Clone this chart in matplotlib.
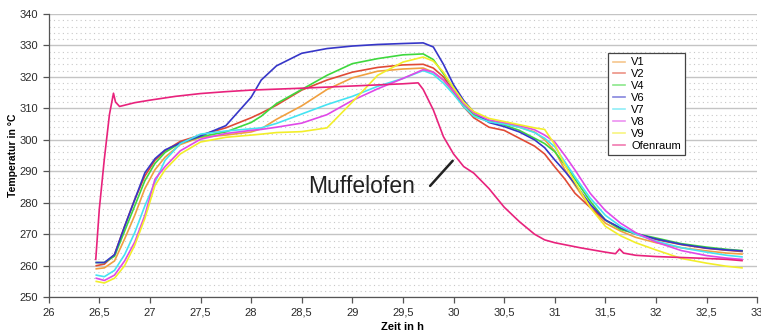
import matplotlib
matplotlib.use("Agg")
import matplotlib.pyplot as plt
import matplotlib.ticker as mticker

plt.rcParams['font.family'] = ['Liberation Sans', 'DejaVu Sans']

# gemeinsame Zeitachse der Versuchsstellen V1..V9 (h)
zeit = [26.47, 26.55, 26.65, 26.75, 26.85, 26.95, 27.05, 27.15, 27.3, 27.5,
        27.75, 28.0, 28.1, 28.25, 28.5, 28.75, 29.0, 29.25, 29.5, 29.7,
        29.8, 29.9, 30.0, 30.1, 30.2, 30.35, 30.5, 30.65, 30.8, 30.9,
        31.0, 31.1, 31.2, 31.35, 31.5, 31.65, 31.8, 32.0, 32.25, 32.5,
        32.7, 32.85]

v1 = [259, 259.3, 261.5, 268.5, 276, 284.5, 290.5, 294.5, 298.5, 300.8,
      301.5, 302.5, 303.5, 306.5, 310.8, 316, 319.7, 321.8, 322.5, 322.8,
      321.5, 319, 315, 310.5, 307.5, 305.8, 305.2, 304, 302.5, 300,
      296.5, 290.5, 285.5, 278.5, 273.5, 271, 269, 267.3, 265.7, 264.7,
      264, 263.7]
v2 = [260, 260.5, 263.5, 272.5, 281, 288.5, 293.5, 296.5, 299.5, 301.5,
      303.8, 307, 308.5, 311, 315.8, 319, 321.5, 323, 323.8, 324,
      322.8, 320, 315.5, 310.5, 307, 304, 303, 300.5, 298, 295.5,
      291.4, 287.5, 283, 278.5, 274.5, 271.8, 270, 268.3, 266.7, 265.5,
      264.9, 264.5]
v4 = [261, 261, 263, 271, 279, 287, 292.5, 296, 299, 301,
      302.5, 305.5, 307.5, 311.5, 316, 320.5, 324.2, 325.8, 327, 327.3,
      325.5, 321, 316.5, 311.5, 308, 306, 304.7, 303, 300.5, 298.8,
      296.2, 292, 287.5, 280.5, 274.5, 271.5, 270.2, 268.8, 267, 265.9,
      265.2, 264.8]
v6 = [261, 261, 263.5, 272.5, 281, 289.5, 294, 296.8, 299, 301.2,
      304.5, 313.5, 319, 323.5, 327.5, 329, 329.8, 330.3, 330.6, 330.8,
      329.5, 324, 317.5, 312.5, 308.8, 305.5, 304.2, 302.5, 300, 297.5,
      293.6, 290, 286, 279.5, 274.5, 272, 270.2, 268.5, 266.8, 265.6,
      265, 264.7]
v7 = [257, 256.5, 258.5, 263.5, 270.5, 279, 286.5, 293.5, 298.8, 301.8,
      302.8, 303.5, 303.8, 305.2, 308.2, 311.2, 313.8, 317, 319.5, 322,
      320.8, 318, 314.5, 310.5, 307.5, 305.7, 305, 304, 302.3, 300.5,
      297.8, 293, 288.2, 281.5, 276, 272.5, 270, 267.8, 265.7, 264.3,
      263.3, 262.8]
v8 = [256, 255.3, 257, 261.5, 267.5, 276, 287.5, 291.5, 296.5, 300.2,
      302, 303, 303.3, 304, 305.3, 308, 312.5, 316.2, 319.5, 322.3,
      321.5, 319, 315.5, 311.5, 308.5, 306.3, 305.5, 304.5, 303.2, 301.5,
      299.3, 295, 290.4, 283, 277.5, 273.5, 270.5, 267.5, 264.8, 263.2,
      262.4, 262]
v9 = [255, 254.5, 256, 260, 266.5, 275, 285.5, 290.5, 295.5, 299.3,
      300.8, 301.5, 301.8, 302.3, 302.6, 303.8, 312, 320.5, 324.7, 326.3,
      325, 321.5, 316.5, 312, 309, 306.8, 305.8, 304.8, 303.8, 303.3,
      298.5, 292, 286.5, 278.5, 272.5, 269.5, 267.3, 265, 262.3, 260.8,
      259.8, 259.3]

# Ofenraum (eigene Zeitpunkte)
zeit_ofen = [26.465, 26.5, 26.55, 26.6, 26.64, 26.66, 26.7, 26.75, 26.85, 27.0,
             27.25, 27.5, 27.75, 28.0, 28.5, 29.0, 29.5, 29.65, 29.7, 29.8,
             29.9, 30.0, 30.1, 30.2, 30.35, 30.5, 30.65, 30.8, 30.9, 31.0,
             31.25, 31.5, 31.6, 31.64, 31.68, 31.8, 32.0, 32.25, 32.5, 32.7,
             32.85]
ofenraum = [262, 278, 294, 308, 314.8, 312, 310.6, 311, 311.8, 312.6,
            313.8, 314.7, 315.3, 315.8, 316.4, 317.1, 317.8, 318.1, 316, 309.5,
            301, 295.5, 291.5, 289.4, 284.5, 278.6, 274, 270, 268.2, 267.3,
            265.7, 264.3, 263.8, 265.3, 264, 263.3, 262.9, 262.6, 262.3, 262,
            261.6]

serien = ['V1', 'V2', 'V4', 'V6', 'V7', 'V8', 'V9']
werte = [v1, v2, v4, v6, v7, v8, v9]
farben = ['#f0a040', '#e04a35', '#3ed83e', '#3636c8', '#45e3f2', '#e048e8', '#f2ee2a']
farbe_ofen = '#e8227c'

fig = plt.figure(figsize=(7.61, 3.32), dpi=100)
ax = fig.add_axes([0.064, 0.105, 0.931, 0.853])

for name, y, c in zip(serien, werte, farben):
    ax.plot(zeit, y, color=c, lw=1.2, label=name)
ax.plot(zeit_ofen, ofenraum, color=farbe_ofen, lw=1.2, label='Ofenraum')

ax.set_xlim(26, 33)
ax.set_ylim(250, 340)
ax.xaxis.set_major_locator(mticker.MultipleLocator(0.5))
ax.xaxis.set_major_formatter(mticker.FuncFormatter(
    lambda v, p: f'{v:g}'.replace('.', ',')))
ax.yaxis.set_major_locator(mticker.MultipleLocator(10))
ax.yaxis.set_minor_locator(mticker.MultipleLocator(2))

ax.grid(axis='y', which='major', color='#c4c4c4', lw=1.0)
ax.grid(axis='y', which='minor', color='#c8c8c8', lw=0.8, ls=(0, (1, 3)))
ax.set_axisbelow(True)

for s in ['top', 'right']:
    ax.spines[s].set_visible(False)
for s in ['left', 'bottom']:
    ax.spines[s].set_color('#555555')
    ax.spines[s].set_linewidth(0.9)
ax.tick_params(which='major', length=4, width=0.9, color='#555555',
               labelsize=8, labelcolor='#2a2a2a')
ax.tick_params(axis='y', which='minor', length=0)

ax.set_xlabel('Zeit in h', fontsize=8, fontweight='bold', labelpad=3)
ax.set_ylabel('Temperatur in °C', fontsize=7.5, fontweight='bold', labelpad=1)

ax.text(29.62, 285.3, 'Muffelofen', fontsize=16.5, ha='right', va='center',
        color='#222222')
ax.annotate('', xy=(30.01, 294), xytext=(29.75, 284.7),
            arrowprops=dict(arrowstyle='-', lw=1.8, color='#222222'))

leg = ax.legend(loc='upper left', bbox_to_anchor=(0.79, 0.862), fontsize=8,
                frameon=True, fancybox=False, framealpha=1, edgecolor='#444444',
                labelspacing=0.17, handlelength=1.1, handletextpad=0.55,
                borderpad=0.4, borderaxespad=0)
leg.get_frame().set_linewidth(0.9)
for line in leg.get_lines():
    line.set_alpha(0.6)

fig.savefig('out.png', dpi=100)
